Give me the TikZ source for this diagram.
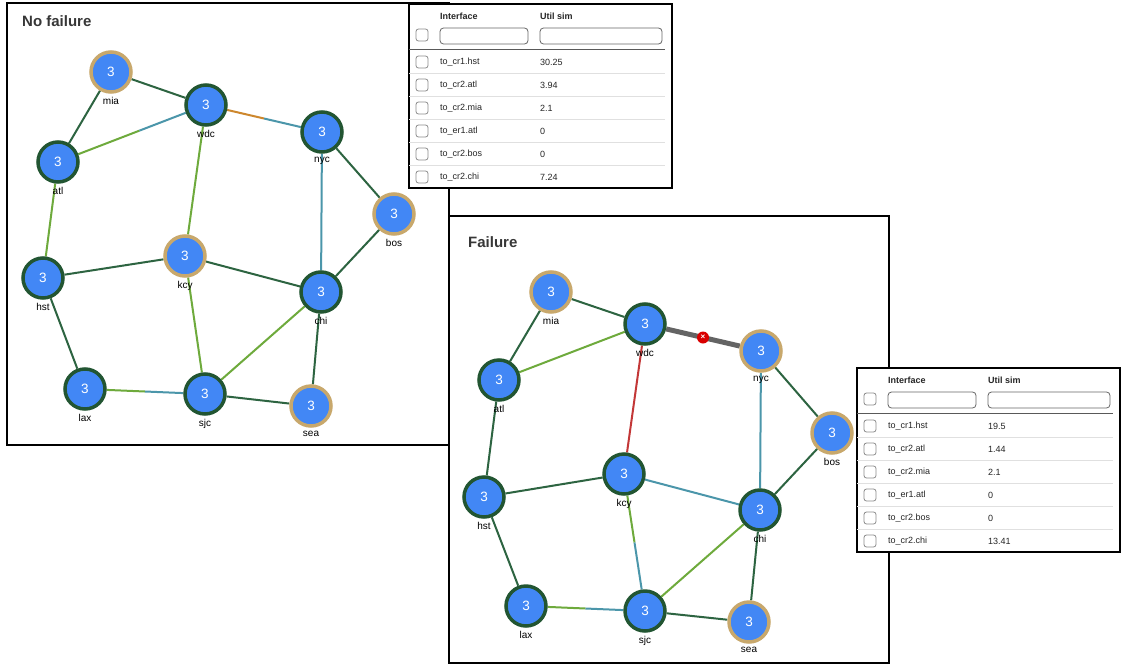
\documentclass[tikz,border=0pt]{standalone}
\usepackage{fontspec}
\setmainfont{Liberation Sans}
\usetikzlibrary{calc}

\definecolor{nodeblue}{RGB}{66,135,245}
\definecolor{ringgreen}{RGB}{34,85,50}
\definecolor{ringgold}{RGB}{200,168,108}
\definecolor{linkdark}{RGB}{45,100,65}
\definecolor{linklight}{RGB}{110,170,60}
\definecolor{linkteal}{RGB}{75,150,170}
\definecolor{linkorange}{RGB}{205,135,45}
\definecolor{linkred}{RGB}{195,55,55}
\definecolor{linkdown}{RGB}{100,100,100}
\definecolor{titlegray}{RGB}{55,55,55}

\pgfdeclarelayer{panel}
\pgfdeclarelayer{edges}
\pgfsetlayers{panel,edges,main}

\tikzstyle{router} = [circle, fill=nodeblue, line width=3.5pt, minimum size=40pt, inner sep=0pt, text=white, font=\fontsize{13.5}{14}\selectfont, label distance=0pt, every label/.style={font=\fontsize{11}{11}\selectfont, text=black!85, fill=white, text height=8pt, text depth=2pt, inner sep=1pt}]
\tikzstyle{greenrtr} = [router, draw=ringgreen]
\tikzstyle{goldrtr} = [router, draw=ringgold]
\tikzstyle{link} = [line width=2pt]
\tikzstyle{downlink} = [line width=5pt, draw=linkdown]
\tikzstyle{cutmark} = [circle, fill=red!85!black, minimum size=12pt, inner sep=0pt, text=white, font=\fontsize{8}{8}\selectfont\bfseries]
\tikzstyle{paneltitle} = [anchor=west, inner sep=0pt, font=\fontsize{15}{15}\selectfont\bfseries, text=titlegray]
\tikzstyle{checkbox} = [rectangle, rounded corners=2.5pt, draw=black!45, line width=0.8pt, minimum size=12pt, inner sep=0pt]
\tikzstyle{filterbox} = [rectangle, rounded corners=3.5pt, draw=black!60, line width=0.8pt, minimum height=16pt, inner sep=0pt]
\tikzstyle{colhead} = [anchor=west, inner sep=0pt, font=\fontsize{9}{9}\selectfont\bfseries, text=black!85]
\tikzstyle{cell} = [anchor=west, inner sep=0pt, font=\fontsize{9}{9}\selectfont, text=black!85]

% interface table: prefix, x, y of top left corner, six util values
\newcommand{\utiltable}[9]{%
\begin{scope}[shift={(#2,#3)}]
\draw[line width=1.6pt, fill=white] (0,0) rectangle (263,184);
\node (#1hbox) [checkbox] at (13,31) {};
\node (#1hif) [colhead] at (31,12) {Interface};
\node (#1hut) [colhead] at (131,12) {Util sim};
\node (#1fif) [filterbox, minimum width=88pt] at (75,32) {};
\node (#1fut) [filterbox, minimum width=122pt] at (192,32) {};
\draw[black!65, line width=1pt] (0,45) -- (256,45);
\foreach \i in {0,...,4}
  \draw[black!12, line width=0.8pt] (0,69.5+23*\i) -- (256,69.5+23*\i);
\foreach \i/\iface/\util in {0/to\_cr1.hst/#4, 1/to\_cr2.atl/#5, 2/to\_cr2.mia/#6, 3/to\_er1.atl/#7, 4/to\_cr2.bos/#8, 5/to\_cr2.chi/#9}{
  \node (#1box\i) [checkbox] at (13,58+23*\i) {};
  \node (#1if\i) [cell] at (31,58+23*\i) {\iface};
  \node (#1ut\i) [cell] at (131,58+23*\i) {\util};
}
\end{scope}}

\begin{document}
\begin{tikzpicture}[x=1pt, y=-1pt]
\useasboundingbox (0,0) rectangle (1121,664);

% no failure
\begin{pgfonlayer}{panel}
\draw[line width=1.5pt, fill=white] (7,3) rectangle (449,445);
\end{pgfonlayer}
\node (title1) [paneltitle] at (22,21) {No failure};
\node (mia1) [goldrtr, label=below:mia] at (111,72) {3};
\node (wdc1) [greenrtr, label=below:wdc] at (206,105) {3};
\node (nyc1) [greenrtr, label=below:nyc] at (322,132) {3};
\node (atl1) [greenrtr, label=below:atl] at (58,162) {3};
\node (bos1) [goldrtr, label=below:bos] at (394,214) {3};
\node (hst1) [greenrtr, label=below:hst] at (43,278) {3};
\node (kcy1) [goldrtr, label=below:kcy] at (185,256) {3};
\node (chi1) [greenrtr, label=below:chi] at (321,292) {3};
\node (lax1) [greenrtr, label=below:lax] at (85,389) {3};
\node (sjc1) [greenrtr, label=below:sjc] at (205,394) {3};
\node (sea1) [goldrtr, label=below:sea] at (311,406) {3};
\coordinate (atlwdc1) at ($(atl1)!0.55!(wdc1)$);
\coordinate (wdcnyc1) at ($(wdc1)!0.5!(nyc1)$);
\coordinate (laxsjc1) at ($(lax1)!0.5!(sjc1)$);
\begin{pgfonlayer}{edges}
\draw [link, draw=linkdark] (mia1) -- (wdc1);
\draw [link, draw=linkdark] (mia1) -- (atl1);
\draw [link, draw=linklight] (atl1) -- (atlwdc1);
\draw [link, draw=linkteal] (atlwdc1) -- (wdc1);
\draw [link, draw=linkorange] (wdc1) -- (wdcnyc1);
\draw [link, draw=linkteal] (wdcnyc1) -- (nyc1);
\draw [link, draw=linklight] (wdc1) -- (kcy1);
\draw [link, draw=linkteal] (nyc1) -- (chi1);
\draw [link, draw=linkdark] (nyc1) -- (bos1);
\draw [link, draw=linkdark] (bos1) -- (chi1);
\draw [link, draw=linklight] (atl1) -- (hst1);
\draw [link, draw=linkdark] (hst1) -- (kcy1);
\draw [link, draw=linkdark] (kcy1) -- (chi1);
\draw [link, draw=linklight] (kcy1) -- (sjc1);
\draw [link, draw=linklight] (chi1) -- (sjc1);
\draw [link, draw=linkdark] (chi1) -- (sea1);
\draw [link, draw=linkdark] (hst1) -- (lax1);
\draw [link, draw=linklight] (lax1) -- (laxsjc1);
\draw [link, draw=linkteal] (laxsjc1) -- (sjc1);
\draw [link, draw=linkdark] (sjc1) -- (sea1);
\end{pgfonlayer}

\utiltable{ta}{409}{4}{30.25}{3.94}{2.1}{0}{0}{7.24}

% failure
\begin{pgfonlayer}{panel}
\draw[line width=1.5pt, fill=white] (449,216) rectangle (889,663);
\end{pgfonlayer}
\node (title2) [paneltitle] at (468,242) {Failure};
\node (mia2) [goldrtr, label=below:mia] at (551,292) {3};
\node (wdc2) [greenrtr, label=below:wdc] at (645,324) {3};
\node (nyc2) [goldrtr, label=below:nyc] at (761,351) {3};
\node (atl2) [greenrtr, label=below:atl] at (499,380) {3};
\node (bos2) [goldrtr, label=below:bos] at (832,433) {3};
\node (hst2) [greenrtr, label=below:hst] at (484,497) {3};
\node (kcy2) [greenrtr, label=below:kcy] at (624,474) {3};
\node (chi2) [greenrtr, label=below:chi] at (760,510) {3};
\node (lax2) [greenrtr, label=below:lax] at (526,606) {3};
\node (sjc2) [greenrtr, label=below:sjc] at (645,611) {3};
\node (sea2) [goldrtr, label=below:sea] at (749,622) {3};
\node (cut) [cutmark] at ($(wdc2)!0.5!(nyc2)$) {×};
\coordinate (kcysjc2) at ($(kcy2)!0.5!(sjc2)$);
\coordinate (laxsjc2) at ($(lax2)!0.5!(sjc2)$);
\begin{pgfonlayer}{edges}
\draw [link, draw=linkdark] (mia2) -- (wdc2);
\draw [link, draw=linkdark] (mia2) -- (atl2);
\draw [link, draw=linklight] (atl2) -- (wdc2);
\draw [downlink] (wdc2) -- (nyc2);
\draw [link, draw=linkred] (wdc2) -- (kcy2);
\draw [link, draw=linkteal] (nyc2) -- (chi2);
\draw [link, draw=linkdark] (nyc2) -- (bos2);
\draw [link, draw=linkdark] (bos2) -- (chi2);
\draw [link, draw=linkdark] (atl2) -- (hst2);
\draw [link, draw=linkdark] (hst2) -- (kcy2);
\draw [link, draw=linkteal] (kcy2) -- (chi2);
\draw [link, draw=linklight] (kcy2) -- (kcysjc2);
\draw [link, draw=linkteal] (kcysjc2) -- (sjc2);
\draw [link, draw=linklight] (chi2) -- (sjc2);
\draw [link, draw=linkdark] (chi2) -- (sea2);
\draw [link, draw=linkdark] (hst2) -- (lax2);
\draw [link, draw=linklight] (lax2) -- (laxsjc2);
\draw [link, draw=linkteal] (laxsjc2) -- (sjc2);
\draw [link, draw=linkdark] (sjc2) -- (sea2);
\end{pgfonlayer}

\utiltable{tb}{857}{368}{19.5}{1.44}{2.1}{0}{0}{13.41}
\end{tikzpicture}
\end{document}
